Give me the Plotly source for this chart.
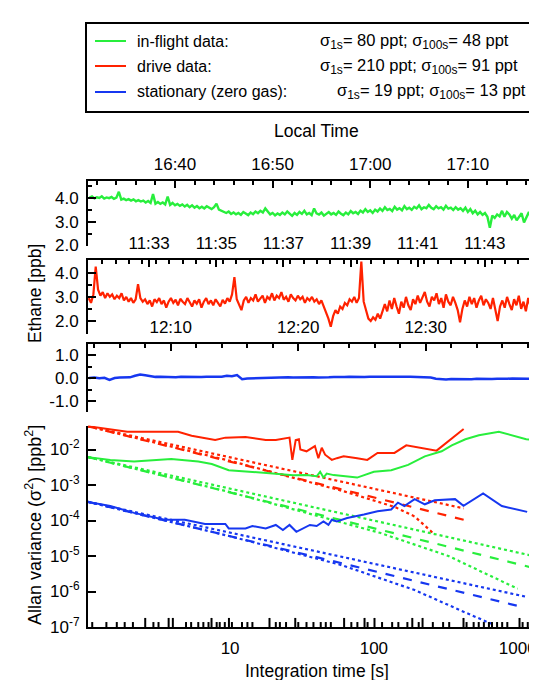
import plotly.graph_objects as go

# ---------------- data ----------------
# in-flight ethane [ppb], sampled every 0.25 min starting 16:31:15 local time
green_start_min = 31.25
green_step_min = 0.25
green_ppb = [
    4.00, 4.05, 3.97, 4.02, 3.99, 4.06, 3.96, 4.01, 3.98, 4.03,
    3.95, 4.00, 4.25, 3.92, 3.96, 3.90, 3.94, 3.88, 3.93, 3.85,
    3.90, 3.84, 3.88, 3.80, 3.86, 3.78, 4.15, 3.75, 3.82, 3.74,
    3.80, 3.72, 4.05, 3.70, 3.78, 3.68, 3.74, 3.66, 3.72, 3.63,
    3.70, 3.60, 3.68, 3.58, 3.65, 3.56, 3.62, 3.55, 3.64, 3.58,
    3.52, 3.60, 3.75, 3.50, 3.45, 3.40, 3.36, 3.42, 3.32, 3.38,
    3.30, 3.36, 3.28, 3.40, 3.33, 3.27, 3.38, 3.31, 3.42, 3.35,
    3.45, 3.38, 3.55, 3.40, 3.30, 3.36, 3.26, 3.34, 3.28, 3.38,
    3.30, 3.42, 3.33, 3.24, 3.36, 3.28, 3.40, 3.32, 3.45, 3.30,
    3.36, 3.27, 3.55, 3.34, 3.29, 3.38, 3.25, 3.33, 3.40, 3.30,
    3.36, 3.28, 3.42, 3.33, 3.27, 3.38, 3.30, 3.44, 3.35, 3.40,
    3.32, 3.46, 3.38, 3.52, 3.40, 3.47, 3.36, 3.50, 3.42, 3.55,
    3.45, 3.60, 3.48, 3.53, 3.44, 3.62, 3.50, 3.56, 3.47, 3.65,
    3.52, 3.58, 3.49, 3.62, 3.55, 3.68, 3.52, 3.60, 3.56, 3.70,
    3.58, 3.52, 3.64, 3.55, 3.60, 3.50, 3.66, 3.54, 3.58, 3.48,
    3.60, 3.50, 3.56, 3.45, 3.58, 3.40, 3.52, 3.35, 3.46, 3.30,
    3.40, 3.28, 3.36, 3.20, 2.74, 3.25, 3.15, 3.30, 3.22, 3.45,
    3.20, 3.40, 3.30, 3.12, 3.28, 3.05, 3.18, 3.35, 2.96, 3.20,
    3.40, 3.15, 3.50, 3.75, 3.30, 3.15, 3.30,
]

# drive ethane [ppb], sampled every 0.07 min starting 11:31:12
red_start_min = 31.2
red_step_min = 0.07
red_ppb = [
    2.95, 2.75, 3.10, 4.25, 3.30, 3.05, 3.20, 2.95, 3.15, 3.00,
    3.10, 2.90, 3.05, 2.95, 3.15, 2.85, 3.00, 2.80, 2.95, 2.75,
    2.90, 3.53, 2.95, 2.80, 2.90, 2.70, 2.85, 2.60, 2.90, 2.78,
    2.95, 2.70, 2.85, 2.55, 2.80, 2.95, 2.75, 2.88, 2.65, 2.92,
    2.80, 2.70, 2.95, 2.78, 2.60, 2.85, 2.72, 2.90, 2.55, 2.80,
    2.95, 2.70, 2.85, 2.65, 2.90, 2.75, 2.60, 2.88, 2.72, 2.95,
    2.80, 3.10, 3.82, 2.90, 2.70, 2.45, 2.85, 3.00, 2.75, 2.95,
    2.85, 3.10, 2.80, 2.95, 3.05, 2.75, 3.00, 2.90, 3.15, 2.85,
    3.05, 2.95, 3.20, 2.88, 3.00, 2.80, 3.10, 2.95, 2.85, 3.05,
    2.90, 3.00, 2.75, 2.95, 2.85, 3.00, 2.80, 2.90, 2.70, 2.85,
    2.60, 2.40, 2.10, 1.76, 2.20, 2.45, 2.30, 2.60, 2.50, 2.75,
    2.65, 2.90, 2.80, 3.00, 2.75, 2.95, 4.46, 2.80, 2.40, 2.10,
    2.00, 2.15, 2.05, 2.30, 2.10, 2.45, 2.70, 2.40, 2.85, 2.50,
    2.95, 2.60, 2.30, 2.80, 2.55, 3.00, 2.65, 2.45, 2.90, 2.70,
    3.05, 2.75, 2.95, 3.20, 2.80, 2.60, 3.00, 2.85, 3.15, 2.70,
    2.95, 2.55, 3.10, 2.80, 2.65, 3.00, 2.75, 2.45, 1.95, 2.50,
    2.85, 2.60, 3.00, 2.70, 2.95, 2.55, 2.85, 3.05, 2.65, 2.90,
    2.75, 2.50, 2.95, 2.40, 2.00, 2.60, 2.85, 2.55, 3.00, 2.70,
    2.45, 2.90, 2.65, 3.05, 2.50, 2.80, 2.40, 2.95, 2.60, 2.85,
    2.55, 3.10, 2.80, 3.30,
]

# stationary zero gas [ppb], sampled every 0.4 min starting 12:03:36
blue_start_min = 3.6
blue_step_min = 0.4
blue_ppb = [
    0.00, 0.02, -0.01, 0.01, -0.08, 0.00, 0.02, 0.01, 0.03, 0.10,
    0.15, 0.12, 0.08, 0.05, 0.06, 0.04, 0.05, 0.03, 0.05, 0.04,
    0.06, 0.05, 0.04, 0.06, 0.05, 0.07, 0.06, 0.10, 0.08, 0.13,
    -0.05, -0.02, -0.01, 0.00, 0.01, 0.00, 0.02, 0.01, 0.02, 0.03,
    0.02, 0.03, 0.02, 0.04, 0.03, 0.02, 0.04, 0.03, 0.04, 0.03,
    0.04, 0.05, 0.04, 0.05, 0.04, 0.06, 0.05, 0.04, 0.05, 0.06,
    0.05, 0.06, 0.05, 0.06, 0.05, 0.06, 0.04, 0.02, -0.03, -0.05,
    -0.06, -0.04, -0.05, -0.06, -0.04, -0.05, -0.03, -0.04, -0.05, -0.04,
    -0.03, -0.04, -0.03, -0.02, -0.03, -0.02, -0.03, -0.02, -0.03, -0.02,
]

# Allan variance, measured curves
av_tau_red = [1.03, 1.47, 1.93, 4.35, 5.40, 7.88, 9.27, 12.8, 17.7, 20.8, 25.9, 27.1,
              28.6, 30.1, 30.8, 34.0, 38.9, 41.1, 43.4, 45.8, 51.0, 55.3, 61.6, 76.5,
              90.0, 106, 139, 168, 273, 421]
av_red = [0.045, 0.0378, 0.0317, 0.0317, 0.0243, 0.0185, 0.0216, 0.0226, 0.0185, 0.0185,
          0.0216, 0.0051, 0.0185, 0.0194, 0.0100, 0.0089, 0.0125, 0.0057, 0.0112, 0.00714,
          0.0051, 0.0057, 0.0064, 0.0057, 0.0051, 0.0080, 0.0080, 0.0131, 0.0093, 0.0378]

av_tau_green = [1.03, 1.47, 2.15, 3.90, 6.01, 7.46, 9.79, 14.3, 19.8, 27.4, 34.0, 40.0,
                42.3, 44.6, 47.0, 52.5, 65.2, 76.5, 100, 132, 173, 226, 296, 348, 433,
                537, 740, 1146, 1520]
av_green = [0.0061, 0.0051, 0.0046, 0.0054, 0.0046, 0.0039, 0.0026, 0.00236, 0.00211,
            0.00189, 0.0019, 0.00176, 0.00236, 0.00162, 0.0021, 0.0019, 0.00176, 0.00162,
            0.00236, 0.0026, 0.0037, 0.0064, 0.0089, 0.0131, 0.0194, 0.0253, 0.0317,
            0.0194, 0.0172]

av_tau_blue = [1.03, 1.47, 2.15, 3.50, 4.84, 6.70, 9.27, 9.79, 12.8, 14.3, 17.7, 20.8,
               23.3, 25.9, 28.9, 32.2, 35.9, 40.0, 44.6, 48.3, 51.0, 55.3, 65.2, 85.3,
               106, 132, 147, 163, 192, 226, 265, 367, 420, 575, 776, 1164]
av_blue = [3.34e-4, 2.55e-4, 1.64e-4, 1.05e-4, 1.05e-4, 8.0e-5, 8.0e-5, 6.0e-5, 6.0e-5,
           7.0e-5, 6.0e-5, 7.5e-5, 5.4e-5, 7.5e-5, 4.8e-5, 6.0e-5, 7.5e-5, 7.0e-5, 9.4e-5,
           7.5e-5, 1.05e-4, 9.4e-5, 1.17e-4, 1.47e-4, 1.83e-4, 2.04e-4, 3.19e-4, 2.55e-4,
           4.0e-4, 2.86e-4, 3.7e-4, 4.0e-4, 2.6e-4, 5.8e-4, 2.55e-4, 1.75e-4]

# Allan variance, reference (white-noise type) curves
ref_red_a_tau = [1.03, 421];   ref_red_a = [0.045, 2.2e-4]
ref_red_d_tau = [1.03, 421];   ref_red_d = [0.045, 1.05e-4]
ref_red_b_tau = [1.03, 10, 63, 140, 192, 265]
ref_red_b = [0.045, 0.0048, 6.5e-4, 2.4e-4, 1.3e-4, 4.0e-5]

ref_green_a_tau = [1.03, 1520]; ref_green_a = [0.0061, 8.6e-6]
ref_green_d_tau = [1.03, 1520]; ref_green_d = [0.0061, 3.9e-6]
ref_green_b_tau = [1.03, 10, 110, 330, 570, 1000]
ref_green_b = [0.0061, 6.3e-4, 4.5e-5, 1.0e-5, 3.5e-6, 1.2e-6]

ref_blue_a_tau = [1.03, 1130]; ref_blue_a = [3.34e-4, 7.2e-7]
ref_blue_d_tau = [1.03, 1130]; ref_blue_d = [3.34e-4, 3.5e-7]
ref_blue_b_tau = [1.03, 10, 60, 192, 420, 667]
ref_blue_b = [3.34e-4, 3.6e-5, 5.5e-6, 1.1e-6, 2.7e-7, 1.2e-7]

# rug marks along the bottom of the Allan panel (tau [s], tall flag)
rug_tau = [1.10, 1.38, 1.63, 1.85, 2.11, 2.57, 2.93, 3.18, 3.74, 4.0, 4.94, 5.36, 6.01,
           6.52, 7.08, 7.43, 8.07, 8.47, 9.19, 9.82, 10.3, 12.1, 13.2, 14.3, 18.8, 20.8,
           22.2, 24.5, 28.4, 29.8, 34.0, 38.0, 42.7, 46.3, 50.2, 62.1, 69.7, 76.8, 86.1,
           90.4, 101, 114, 134, 148, 171, 185, 205, 218, 257, 303, 334, 420, 441, 494,
           536, 582, 631, 663, 719, 780, 847, 1030, 1082, 1175, 1380]
rug_tall = [0, 0, 0, 0, 0, 1, 0, 0, 1, 1, 0, 0, 0, 0, 0, 1, 0, 0, 0, 1, 0, 0, 0, 0, 1, 0,
            0, 0, 1, 0, 0, 0, 0, 0, 0, 1, 0, 0, 1, 0, 1, 0, 0, 0, 0, 1, 0, 1, 0, 0, 0, 1,
            0, 0, 0, 0, 0, 0, 0, 0, 0, 1, 0, 0, 0]

local_tick_vals = [40, 50, 60, 70]
local_tick_text = ["16:40", "16:50", "17:00", "17:10"]
flight_tick_vals = [33, 35, 37, 39, 41, 43]
flight_tick_text = ["11:33", "11:35", "11:37", "11:39", "11:41", "11:43"]
drive_tick_vals = [10, 20, 30]
drive_tick_text = ["12:10", "12:20", "12:30"]

legend_names = ["in-flight data:", "drive data:", "stationary (zero gas):"]
SUB = '<sub><span style="font-size:12px">{}</span></sub>'
legend_stats = ["σ" + SUB.format("1s") + "= 80 ppt; σ" + SUB.format("100s") + "= 48 ppt",
                "σ" + SUB.format("1s") + "= 210 ppt; σ" + SUB.format("100s") + "= 91 ppt",
                "σ" + SUB.format("1s") + "= 19 ppt; σ" + SUB.format("100s") + "= 13 ppt"]

# ---------------- styling ----------------
FONT = "Arial, Liberation Sans, sans-serif"
GREEN = "rgb(40,238,60)"
RED = "rgb(255,34,0)"
BLUE = "rgb(22,55,240)"
COLORS = [GREEN, RED, BLUE]

fig = go.Figure()

t_green = [green_start_min + green_step_min * i for i in range(len(green_ppb))]
t_red = [red_start_min + red_step_min * i for i in range(len(red_ppb))]
t_blue = [blue_start_min + blue_step_min * i for i in range(len(blue_ppb))]

fig.add_trace(go.Scatter(x=t_green, y=green_ppb, xaxis="x", yaxis="y", mode="lines",
                         line=dict(color=GREEN, width=2.4)))
fig.add_trace(go.Scatter(x=t_red, y=red_ppb, xaxis="x2", yaxis="y2", mode="lines",
                         line=dict(color=RED, width=2.2)))
fig.add_trace(go.Scatter(x=t_blue, y=blue_ppb, xaxis="x3", yaxis="y3", mode="lines",
                         line=dict(color=BLUE, width=2.5)))

def av(x, y, color, dash="solid", width=2):
    fig.add_trace(go.Scatter(x=x, y=y, xaxis="x4", yaxis="y4", mode="lines",
                             line=dict(color=color, width=width, dash=dash)))

av(ref_red_a_tau, ref_red_a, RED, "dot", 2.2)
av(ref_red_d_tau, ref_red_d, RED, "dash", 2.2)
av(ref_red_b_tau, ref_red_b, RED, "dot", 2.2)
av(ref_green_a_tau, ref_green_a, GREEN, "dot", 2.2)
av(ref_green_d_tau, ref_green_d, GREEN, "dash", 2.2)
av(ref_green_b_tau, ref_green_b, GREEN, "dot", 2.2)
av(ref_blue_a_tau, ref_blue_a, BLUE, "dot", 2.2)
av(ref_blue_d_tau, ref_blue_d, BLUE, "dash", 2.2)
av(ref_blue_b_tau, ref_blue_b, BLUE, "dot", 2.2)
av(av_tau_red, av_red, RED)
av(av_tau_green, av_green, GREEN)
av(av_tau_blue, av_blue, BLUE)

# rug
rx, ry = [], []
for t, tall in zip(rug_tau, rug_tall):
    rx += [t, t, None]
    ry += [1e-7, 1.8e-7 if tall else 1.38e-7, None]
fig.add_trace(go.Scatter(x=rx, y=ry, xaxis="x4", yaxis="y4", mode="lines",
                         line=dict(color="black", width=2)))

tickfont = dict(family=FONT, size=17, color="black")

def time_xaxis(rng, vals, text, minor_dtick, anchor):
    return dict(domain=[0, 1], anchor=anchor, side="top", range=rng,
                tickmode="array", tickvals=vals, ticktext=text,
                ticks="inside", ticklen=7, tickwidth=2, tickcolor="black",
                minor=dict(tick0=0, dtick=minor_dtick, ticks="inside", ticklen=4,
                           tickwidth=2, tickcolor="black"),
                showline=True, linewidth=2, linecolor="black",
                showgrid=False, zeroline=False, tickfont=tickfont,
                ticklabelstandoff=2, automargin=False)

def lin_yaxis(rng, vals, anchor, domain):
    return dict(domain=domain, anchor=anchor, range=rng,
                tickmode="array", tickvals=vals, ticktext=[f"{v:.1f}" for v in vals],
                ticks="inside", ticklen=8, tickwidth=2, tickcolor="black",
                minor=dict(tick0=0, dtick=0.5, ticks="inside", ticklen=4,
                           tickwidth=2, tickcolor="black"),
                showline=True, mirror="ticks", linewidth=2, linecolor="black",
                showgrid=False, zeroline=False, tickfont=tickfont,
                ticklabelstandoff=4, automargin=False)

fig.update_layout(
    width=537, height=680,
    margin=dict(l=80, r=0, t=173, b=61),
    paper_bgcolor="white", plot_bgcolor="white",
    showlegend=False,
    font=dict(family=FONT, size=16, color="black"),
    xaxis=time_xaxis([31.09, 77.9], local_tick_vals, local_tick_text, 2, "y"),
    yaxis=lin_yaxis([1.99, 4.7], [2, 3, 4], "x", [0.855, 1.0]),
    xaxis2=time_xaxis([31.18, 44.79], flight_tick_vals, flight_tick_text, 0.4, "y2"),
    yaxis2=lin_yaxis([1.48, 4.53], [2, 3, 4], "x2", [0.658, 0.823]),
    xaxis3=time_xaxis([3.51, 39.36], drive_tick_vals, drive_tick_text, 2, "y3"),
    yaxis3=lin_yaxis([-1.48, 1.48], [-1, 0, 1], "x3", [0.482, 0.6345]),
    xaxis4=dict(domain=[0, 1], anchor="y4", type="log", range=[0.012, 3.19],
                tickmode="array", tickvals=[10, 100, 1000], ticktext=["10", "100", "1000"],
                ticks="", showline=True, linewidth=2, linecolor="black",
                showgrid=False, zeroline=False, tickfont=tickfont,
                ticklabelstandoff=5, automargin=False),
    yaxis4=dict(domain=[0, 0.4513], anchor="x4", type="log", range=[-7, -1.33],
                tickmode="array",
                tickvals=[1e-7, 1e-6, 1e-5, 1e-4, 1e-3, 1e-2],
                ticktext=["10<sup>-7</sup>", "10<sup>-6</sup>", "10<sup>-5</sup>",
                          "10<sup>-4</sup>", "10<sup>-3</sup>", "10<sup>-2</sup>"],
                ticks="inside", ticklen=8, tickwidth=2, tickcolor="black",
                showline=True, mirror="ticks", linewidth=2, linecolor="black",
                showgrid=False, zeroline=False, tickfont=tickfont,
                ticklabelstandoff=3, automargin=False),
)

# helper: convert pixel position of the page to paper coords
def px(x):
    return (x - 80) / 457.0

def py(y):
    return (619 - y) / 446.0

annotations = [
    dict(text="Local Time", x=0.5, y=py(123), xref="paper", yref="paper",
         showarrow=False, font=dict(family=FONT, size=17.5), xanchor="center", yanchor="middle"),
    dict(text="Integration time [s]", x=0.5, y=py(663), xref="paper", yref="paper",
         showarrow=False, font=dict(family=FONT, size=17.5), xanchor="center", yanchor="middle"),
    dict(text="Ethane [ppb]", x=px(27), y=py(286), xref="paper", yref="paper",
         showarrow=False, textangle=-90, font=dict(family=FONT, size=17.5),
         xanchor="center", yanchor="middle"),
    dict(text="Allan variance (σ<sup>2</sup>) [ppb<sup>2</sup>]", x=px(25), y=py(517),
         xref="paper", yref="paper", showarrow=False, textangle=-90,
         font=dict(family=FONT, size=18), xanchor="center", yanchor="middle"),
]
shapes = [
    dict(type="rect", xref="paper", yref="paper", x0=px(78), x1=px(532), y0=py(104), y1=py(15),
         line=dict(color="black", width=2), fillcolor="white", layer="above"),
]
row_y = [33, 58, 84]
stat_x = [310, 310, 327]
for name, stat, col, yy, sx in zip(legend_names, legend_stats, COLORS, row_y, stat_x):
    shapes.append(dict(type="line", xref="paper", yref="paper", x0=px(87), x1=px(118),
                       y0=py(yy), y1=py(yy), line=dict(color=col, width=2)))
    annotations.append(dict(text=name, x=px(127), y=py(yy), xref="paper", yref="paper",
                            showarrow=False, xanchor="left", yanchor="middle",
                            font=dict(family=FONT, size=16)))
    annotations.append(dict(text=stat, x=px(sx), y=py(yy), xref="paper", yref="paper",
                            showarrow=False, xanchor="left", yanchor="middle",
                            font=dict(family=FONT, size=16.5)))

fig.update_layout(annotations=annotations, shapes=shapes)

fig.write_html("out.html")
